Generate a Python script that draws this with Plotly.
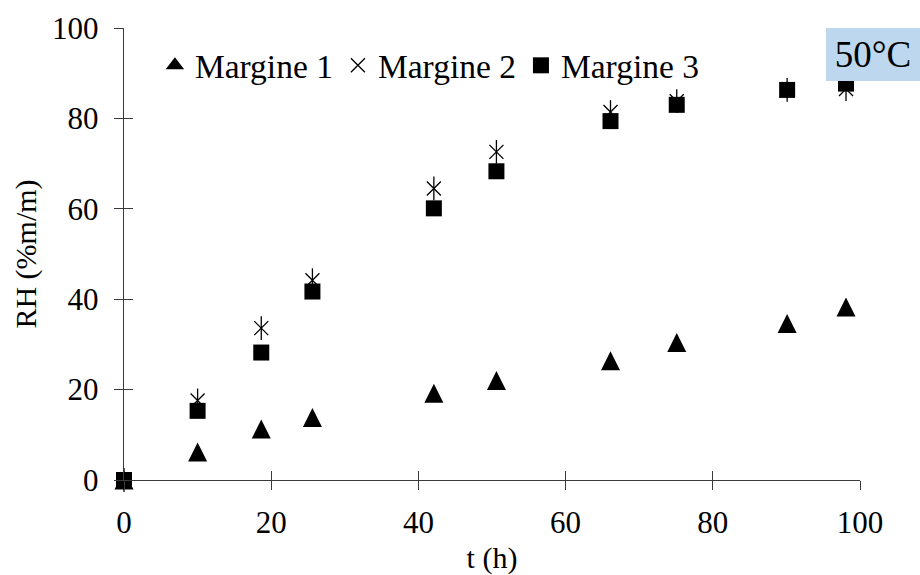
import plotly.graph_objects as go

t_h = [0, 10, 18.65, 25.6, 42.1, 50.6, 66.1, 75.1, 90.1, 98.1]
margine1 = [0, 6.2, 11.3, 13.8, 19.2, 22.0, 26.4, 30.4, 34.6, 38.3]
margine2 = [0, 17.6, 33.6, 44.2, 64.5, 72.6, 81.4, 83.8, 86.3, 86.5]
margine3 = [0, 15.3, 28.2, 41.7, 60.1, 68.3, 79.4, 83.0, 86.3, 87.7]

x_ticks = [0, 20, 40, 60, 80, 100]
y_ticks = [0, 20, 40, 60, 80, 100]

FONT = "Liberation Serif, Times New Roman, serif"
AX = "#3a3a3a"

W, H = 920, 575
ML, MT, MR, MB = 124, 28, 60, 95

fig = go.Figure()
# legend entry for Margine 1 (plain triangle symbol)
fig.add_trace(go.Scatter(x=[None], y=[None], mode="markers", name="Margine 1",
                         legendgroup="m1",
                         marker=dict(symbol="triangle-up", size=17, color="black")))
# data points: equilateral-looking triangle, centred on the point
fig.add_trace(go.Scatter(x=t_h, y=margine1, mode="markers", name="Margine 1",
                         legendgroup="m1", showlegend=False,
                         marker=dict(symbol="arrow-down", angle=180, size=19,
                                     color="black", standoff=9.5),
                         cliponaxis=False))
fig.add_trace(go.Scatter(x=t_h, y=margine2, mode="markers", name="Margine 2",
                         legendgroup="m2",
                         marker=dict(symbol="x-thin-open", size=14, color="black",
                                     line=dict(width=1.3, color="black")),
                         cliponaxis=False))
fig.add_trace(go.Scatter(x=t_h, y=margine2, mode="markers", name="Margine 2",
                         legendgroup="m2", showlegend=False,
                         marker=dict(symbol="line-ns-open", size=17, color="black",
                                     line=dict(width=1.3, color="black")),
                         cliponaxis=False))
fig.add_trace(go.Scatter(x=t_h, y=margine3, mode="markers", name="Margine 3",
                         legendgroup="m3",
                         marker=dict(symbol="square", size=16, color="black"),
                         cliponaxis=False))

plot_w = W - ML - MR
fig.update_layout(
    width=W, height=H,
    margin=dict(l=ML, r=MR, t=MT, b=MB, autoexpand=False),
    paper_bgcolor="white", plot_bgcolor="white",
    font=dict(family=FONT, size=30, color="black"),
    showlegend=True,
    legend=dict(orientation="h", x=0.042, y=0.98, xanchor="left", yanchor="top",
                font=dict(family=FONT, size=33.5, color="black"),
                bgcolor="rgba(0,0,0,0)", itemwidth=30, tracegroupgap=0),
    xaxis=dict(range=[0, 100], tickvals=x_ticks, showgrid=False, zeroline=False,
               showline=True, linecolor=AX, linewidth=1.4, automargin=False,
               ticks="outside", ticklen=9, tickcolor=AX, tickwidth=1.2,
               ticklabelstandoff=6,
               tickfont=dict(family=FONT, size=31),
               title=dict(text="t (h)", font=dict(family=FONT, size=30), standoff=16)),
    yaxis=dict(range=[0, 100], tickvals=y_ticks, showgrid=False, zeroline=False,
               showline=True, linecolor=AX, linewidth=1.4, automargin=False,
               ticks="outside", ticklen=9, tickcolor=AX, tickwidth=1.2,
               ticklabelstandoff=9,
               tickfont=dict(family=FONT, size=31),
               title=dict(text="RH (%m/m)", font=dict(family=FONT, size=30), standoff=6)),
    xaxis2=dict(range=[0, 100], tickvals=x_ticks, overlaying="x", anchor="y",
                side="bottom", showgrid=False, zeroline=False, showline=False,
                ticks="inside", ticklen=9, tickcolor=AX, tickwidth=1.2,
                showticklabels=False, automargin=False),
    yaxis2=dict(range=[0, 100], tickvals=y_ticks, overlaying="y", anchor="x",
                side="left", showgrid=False, zeroline=False, showline=False,
                ticks="inside", ticklen=9, tickcolor=AX, tickwidth=1.2,
                showticklabels=False, automargin=False),
    annotations=[dict(text="50°C", xref="paper", yref="paper",
                      x=(W - ML) / plot_w, y=1.0, xanchor="right", yanchor="top",
                      showarrow=False, bgcolor="#BDD7EE", width=90, height=49,
                      borderpad=1, borderwidth=1, bordercolor="#BDD7EE",
                      font=dict(family=FONT, size=37, color="black"))],
)
fig.add_trace(go.Scatter(x=[None], y=[None], xaxis="x2", yaxis="y2",
                         showlegend=False, hoverinfo="skip"))

fig.write_html("out.html", config={"displayModeBar": False},
               post_script="document.body.style.margin='0';document.body.style.overflow='hidden';")
